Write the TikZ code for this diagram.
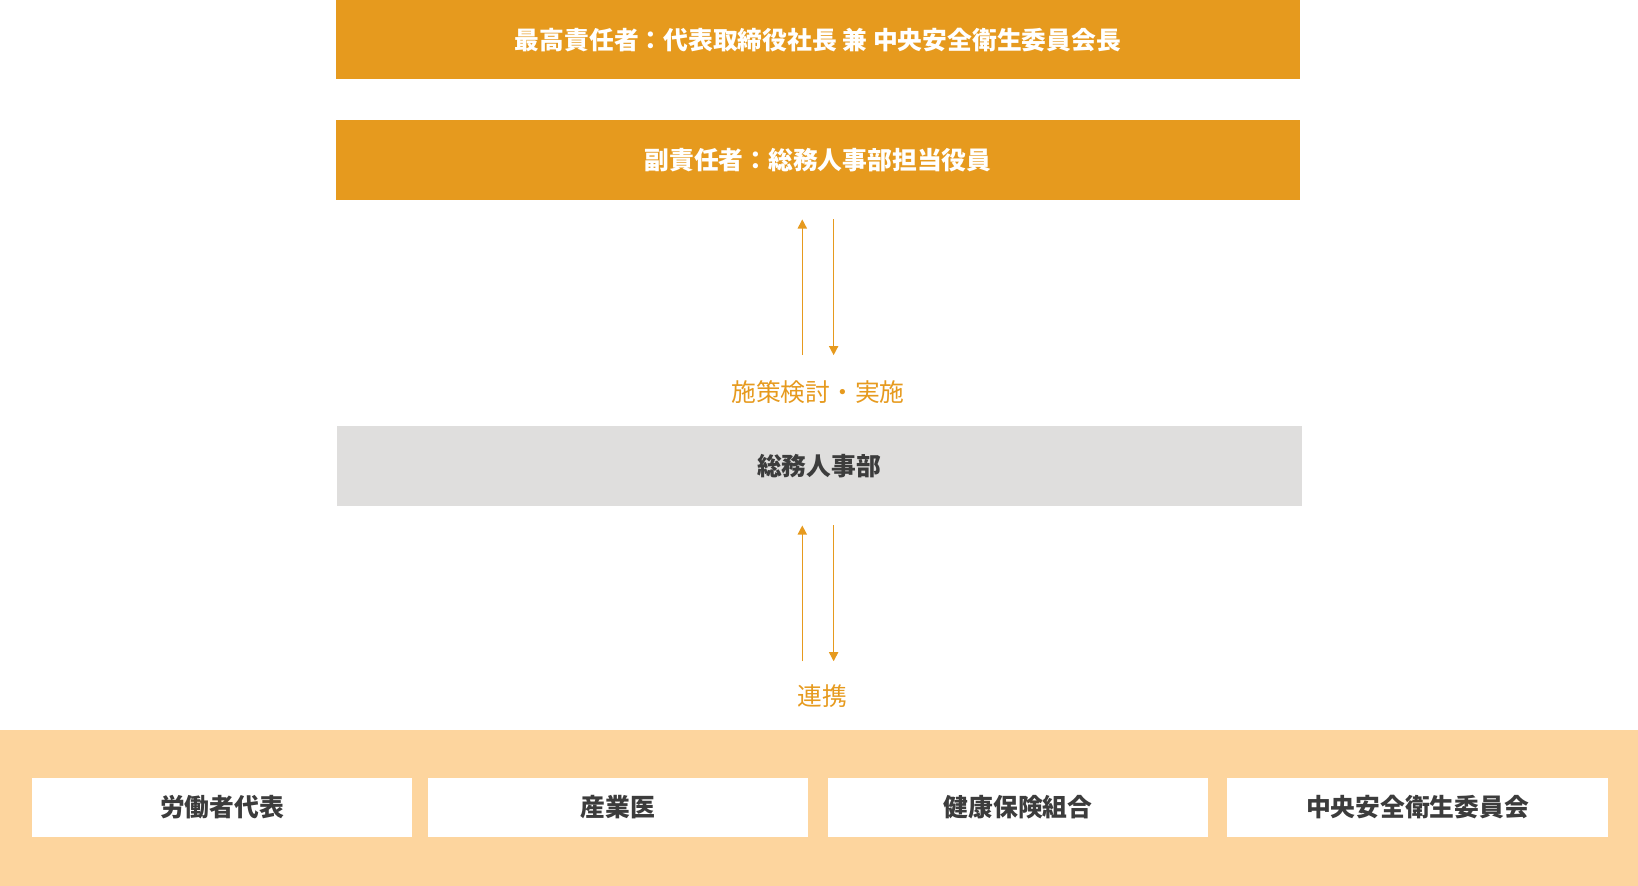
\documentclass[tikz,border=0pt]{standalone}
\usepackage{fontspec}
\setmainfont{Noto Sans CJK JP}
\usetikzlibrary{arrows.meta}
\definecolor{kinorange}{HTML}{E69A1E}
\definecolor{kingray}{HTML}{DFDEDD}
\definecolor{kinband}{HTML}{FDD59E}
\definecolor{kintext}{HTML}{3C3C3C}

\begin{document}
\begin{tikzpicture}[x=0.02cm,y=-0.02cm,
    headbox/.style={fill=kinorange, text=white, font=\fontsize{13.5}{16}\selectfont\bfseries},
    deptbox/.style={fill=kingray, text=kintext, font=\fontsize{13.5}{16}\selectfont\bfseries},
    partbox/.style={fill=white, text=kintext, font=\fontsize{13.5}{16}\selectfont\bfseries},
    flowlabel/.style={text=kinorange, font=\fontsize{13.5}{16}\selectfont},
    flow/.style={kinorange, line width=0.8pt, -{Triangle[length=5pt,width=5pt]}}]

      \useasboundingbox (0,0) rectangle (1568,848);
      \fill[kinband] (0,699) rectangle (1568,848);

      % top of the organisation
      \filldraw[headbox, draw=none] (322,0) rectangle (1244,76);
      \node[headbox] (chief) at (783,38) {最高責任者：代表取締役社長 兼 中央安全衛生委員会長};
      \filldraw[headbox, draw=none] (322,115) rectangle (1244,191);
      \node[headbox] (deputy) at (783,153) {副責任者：総務人事部担当役員};

      % department
      \filldraw[deptbox, draw=none] (323,408) rectangle (1246,484);
      \node[deptbox] (dept) at (784,446) {総務人事部};
      \node[flowlabel] (plan) at (783,375) {施策検討・実施};
      \node[flowlabel] (link) at (787,666) {連携};

      \coordinate (upA1) at (768,340); \coordinate (upA2) at (768,210);
      \coordinate (dnA1) at (798,210); \coordinate (dnA2) at (798,340);
      \coordinate (upB1) at (768,633); \coordinate (upB2) at (768,503);
      \coordinate (dnB1) at (798,503); \coordinate (dnB2) at (798,633);
      \draw[flow] (upA1) -- (upA2);
      \draw[flow] (dnA1) -- (dnA2);
      \draw[flow] (upB1) -- (upB2);
      \draw[flow] (dnB1) -- (dnB2);

      % partners
      \foreach \xa/\xb/\name/\txt in {31/394/labour/労働者代表, 410/773/doctor/産業医,
          793/1156/union/健康保険組合, 1175/1539/committee/中央安全衛生委員会}{
        \fill[white] (\xa,745) rectangle (\xb,801);
        \node[partbox] (\name) at ({(\xa+\xb)/2},773) {\txt};
      }
    \end{tikzpicture}
\end{document}
